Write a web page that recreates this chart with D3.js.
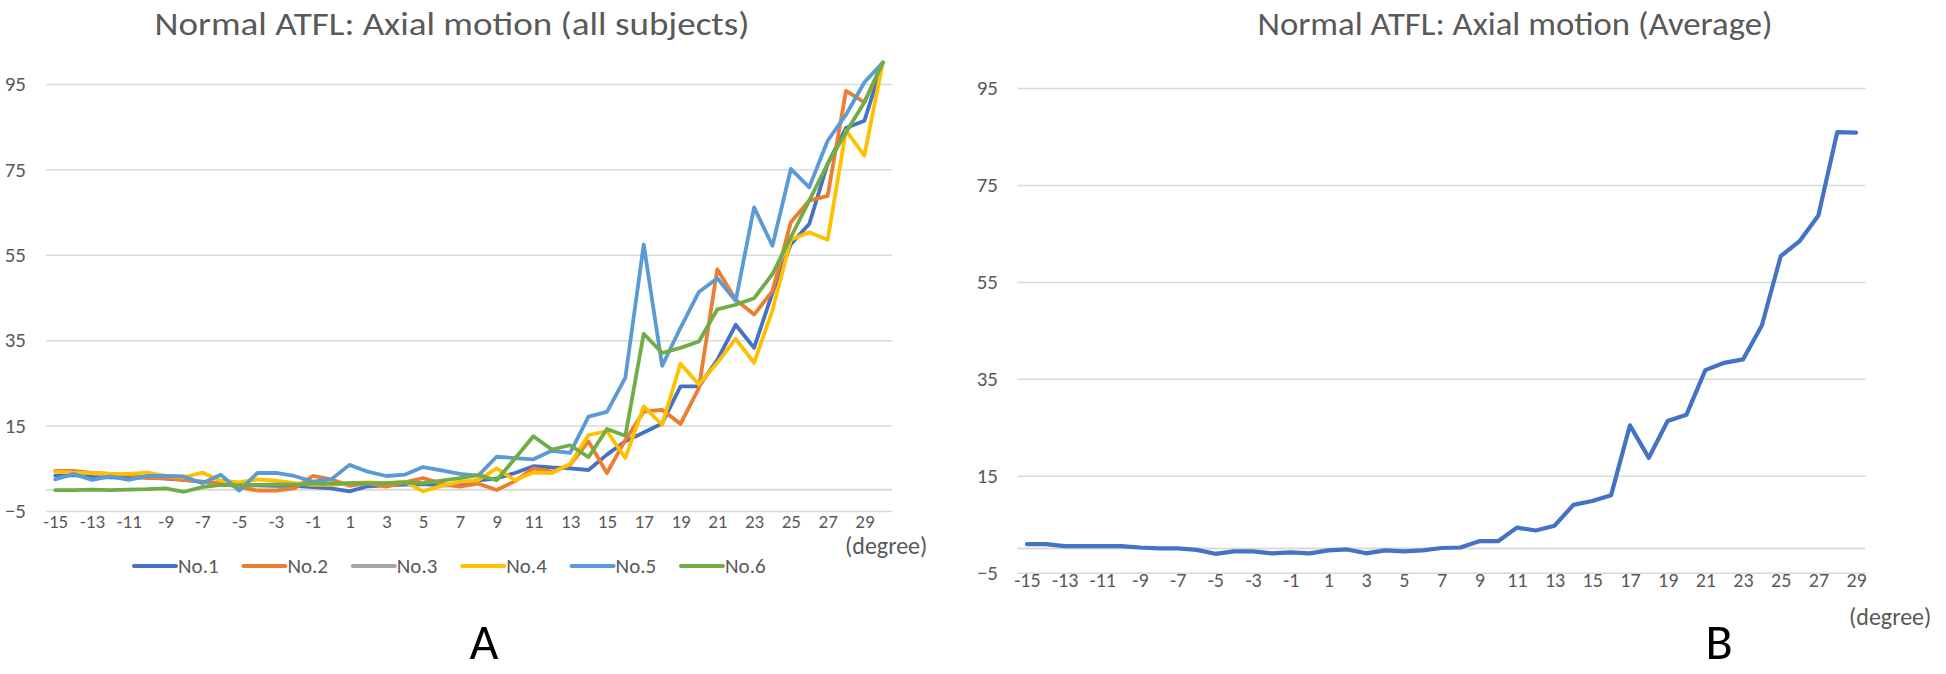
<!DOCTYPE html>
<html>
<head>
<meta charset="utf-8">
<script src="https://cdn.jsdelivr.net/npm/d3@7"></script>
<style>
  body { margin: 0; background: #fff; }
  text { font-family: "Liberation Sans Narrow", "Carlito", "Liberation Sans", sans-serif; fill: #595959; }
</style>
</head>
<body>
<script>
// categories (degree)
const degreesA = [-15, -14, -13, -12, -11, -10, -9, -8, -7, -6, -5, -4, -3, -2, -1, 0, 1, 2, 3, 4, 5, 6, 7, 8,
  9, 10, 11, 12, 13, 14, 15, 16, 17, 18, 19, 20, 21, 22, 23, 24, 25, 26, 27, 28, 29, 30];
const degreesB = [-15, -14, -13, -12, -11, -10, -9, -8, -7, -6, -5, -4, -3, -2, -1, 0, 1, 2, 3, 4, 5, 6, 7, 8,
  9, 10, 11, 12, 13, 14, 15, 16, 17, 18, 19, 20, 21, 22, 23, 24, 25, 26, 27, 28, 29];
const xTickLabels = [-15, -13, -11, -9, -7, -5, -3, -1, 1, 3, 5, 7, 9, 11, 13, 15, 17, 19, 21, 23, 25, 27, 29];
const yTickLabels = [-5, 15, 35, 55, 75, 95];

const subjects = ['No.1', 'No.2', 'No.3', 'No.4', 'No.5', 'No.6'];
const subjectColors = ['#4472c4', '#ed7d31', '#a5a5a5', '#ffc000', '#5b9bd5', '#70ad47'];

// series values, chart A (-15 .. 30)
const no1 = [3.3, 3.4, 3.0, 2.9, 2.8, 2.8, 2.6, 2.3, 1.8, 1.4, 1.0, 1.0, 0.9, 0.9, 0.6, 0.3, -0.4, 0.8, 1.0, 1.2, 1.3, 1.0, 1.0, 2.2,
  2.6, 3.9, 5.5, 5.2, 5.0, 4.6, 8.2, 11.3, 13.4, 15.5, 24.2, 24.2, 30.4, 38.6, 33.2, 46.1, 57.5, 62.2, 76.3, 84.7, 86.4, 100];
const no2 = [4.4, 4.4, 3.9, 3.7, 3.5, 2.7, 2.7, 2.3, 1.9, 1.5, 0.6, -0.2, -0.2, 0.3, 3.2, 2.4, 0.9, 1.5, 0.7, 1.7, 2.7, 1.4, 0.7, 1.4,
  -0.1, 2.0, 5.0, 4.2, 5.8, 11.3, 3.9, 11.6, 18.3, 18.7, 15.4, 23.8, 51.6, 44.5, 41.0, 46.5, 62.6, 67.7, 68.8, 93.4, 90.7, 100];
const no3 = []; // no visible line for No.3 in the figure
const no4 = [4.2, 4.0, 3.9, 3.7, 3.7, 4.0, 3.2, 2.9, 4.0, 2.1, 1.7, 2.4, 2.1, 1.5, 1.1, 1.1, 1.5, 1.7, 1.5, 1.9, -0.4, 0.9, 1.8, 2.2,
  5.0, 2.2, 4.0, 3.9, 6.0, 12.8, 13.7, 7.4, 19.5, 15.2, 29.5, 24.6, 29.7, 35.3, 29.7, 42.0, 58.5, 60.3, 58.5, 84.1, 78.2, 100];
const no5 = [2.4, 3.7, 2.3, 3.1, 2.3, 3.2, 3.2, 3.1, 1.5, 3.5, -0.2, 3.9, 3.9, 3.2, 1.9, 2.4, 5.8, 4.2, 3.2, 3.5, 5.3, 4.5, 3.7, 3.3,
  7.7, 7.4, 7.1, 9.1, 8.6, 17.1, 18.2, 26.2, 57.4, 29.0, 37.9, 46.3, 49.5, 44.2, 66.1, 57.1, 75.1, 70.8, 81.7, 87.8, 95.4, 100];
const no6 = [-0.1, -0.1, 0.0, -0.1, 0.0, 0.1, 0.3, -0.5, 0.6, 1.1, 1.0, 1.1, 1.2, 1.2, 1.4, 1.4, 1.5, 1.5, 1.5, 1.7, 1.5, 2.1, 2.7, 3.4,
  2.2, 7.3, 12.5, 9.4, 10.4, 7.6, 14.2, 12.6, 36.5, 32.0, 33.2, 34.7, 42.2, 43.3, 44.8, 50.5, 59.1, 67.7, 76.3, 83.7, 90.7, 100];

// chart B (-15 .. 29)
const average = [0.9, 0.9, 0.5, 0.5, 0.5, 0.5, 0.2, 0.0, 0.0, -0.3, -1.1, -0.6, -0.6, -1.0, -0.8, -1.0, -0.4, -0.2, -1.0, -0.4, -0.6, -0.4, 0.1, 0.2,
  1.5, 1.5, 4.3, 3.7, 4.7, 9.0, 9.8, 11.0, 25.4, 18.7, 26.3, 27.6, 36.8, 38.3, 39.0, 46.0, 60.3, 63.4, 68.7, 85.9, 85.8];

const w = 1946;
const h = 674;

const svg = d3.select('body').append('svg')
  .attr('width', w)
  .attr('height', h);

// draws one Excel-like line chart
function drawPanel(cfg) {
  const x = d3.scalePoint().domain(cfg.cats).range([cfg.left, cfg.right]).padding(0.5);
  const y = d3.scaleLinear().domain(cfg.yDomain).range([cfg.bottom, cfg.top]);
  const g = svg.append('g');

  // gridlines
  g.append('g')
    .attr('transform', `translate(${cfg.left},0)`)
    .call(d3.axisLeft(y).tickValues(yTickLabels).tickSize(-(cfg.right - cfg.left)).tickFormat(''))
    .call(s => s.select('.domain').remove())
    .call(s => s.selectAll('line').attr('stroke', '#d9d9d9').attr('stroke-width', 1.5));

  // zero axis line
  g.append('line')
    .attr('x1', cfg.left).attr('x2', cfg.right)
    .attr('y1', y(0)).attr('y2', y(0))
    .attr('stroke', '#d9d9d9').attr('stroke-width', 2);

  // y labels
  g.append('g')
    .attr('transform', `translate(${cfg.yLabelX},0)`)
    .call(d3.axisLeft(y).tickValues(yTickLabels).tickSize(0).tickPadding(0))
    .call(s => s.select('.domain').remove())
    .call(s => s.selectAll('text').style('font-size', '21px').attr('fill', '#595959'));

  // x labels, placed below the plot
  g.append('g')
    .attr('transform', `translate(0,${cfg.xLabelY})`)
    .call(d3.axisBottom(x).tickValues(xTickLabels).tickSize(0).tickPadding(0))
    .call(s => s.select('.domain').remove())
    .call(s => s.selectAll('text').style('font-size', cfg.tickSize + 'px').attr('fill', '#595959').attr('dy', '0.35em'));

  const line = d3.line()
    .x((d, i) => x(cfg.cats[i]))
    .y(d => y(d));

  cfg.series.forEach((s) => {
    if (!s.values.length) return;
    g.append('path')
      .datum(s.values)
      .attr('fill', 'none')
      .attr('stroke', s.color)
      .attr('stroke-width', cfg.lineWidth)
      .attr('stroke-linejoin', 'round')
      .attr('stroke-linecap', 'round')
      .attr('d', line);
  });

  g.append('text')
    .attr('x', cfg.titleX)
    .attr('y', 35)
    .attr('text-anchor', 'middle')
    .attr('textLength', cfg.titleW)
    .attr('lengthAdjust', 'spacingAndGlyphs')
    .style('font-size', '32px')
    .text(cfg.title);

  g.append('text')
    .attr('x', cfg.degreeX)
    .attr('y', cfg.degreeY)
    .attr('dy', '0.35em')
    .style('font-size', '24px')
    .text('(degree)');

  // panel letter, kept just inside the bottom edge
  g.append('text')
    .attr('x', cfg.letterX)
    .attr('y', 659)
    .attr('text-anchor', 'middle')
    .style('font-size', '50px')
    .style('fill', '#000')
    .text(cfg.letter);

  return { x, y, g };
}

const dataA = [no1, no2, no3, no4, no5, no6];

drawPanel({
  cats: degreesA,
  left: 46, right: 892, top: 62.6, bottom: 511,
  yDomain: [-5, 100],
  yLabelX: 26, xLabelY: 521, tickSize: 19, lineWidth: 3.8,
  series: subjects.map((name, i) => ({ name, values: dataA[i], color: subjectColors[i] })),
  title: 'Normal ATFL: Axial motion (all subjects)', titleX: 452, titleW: 595,
  degreeX: 845, degreeY: 546,
  letter: 'A', letterX: 484
});

drawPanel({
  cats: degreesB,
  left: 1017.5, right: 1865.5, top: 88, bottom: 572.7,
  yDomain: [-5, 95],
  yLabelX: 998, xLabelY: 580, tickSize: 20, lineWidth: 4.2,
  series: [{ name: 'Average', values: average, color: '#4472c4' }],
  title: 'Normal ATFL: Axial motion (Average)', titleX: 1515, titleW: 515,
  degreeX: 1849, degreeY: 617,
  letter: 'B', letterX: 1719
});

// legend for chart A
const legend = svg.append('g')
  .attr('transform', 'translate(134,566)');

const item = legend.selectAll('g')
  .data(subjects)
  .enter()
  .append('g')
  .attr('transform', (d, i) => `translate(${i * 109.4},0)`);

item.append('line')
  .attr('x1', 0).attr('x2', 42)
  .attr('stroke', (d, i) => subjectColors[i])
  .attr('stroke-width', 4)
  .attr('stroke-linecap', 'round');

item.append('text')
  .attr('x', 44)
  .attr('dy', '0.35em')
  .style('font-size', '21px')
  .text(d => d);
</script>
</body>
</html>
